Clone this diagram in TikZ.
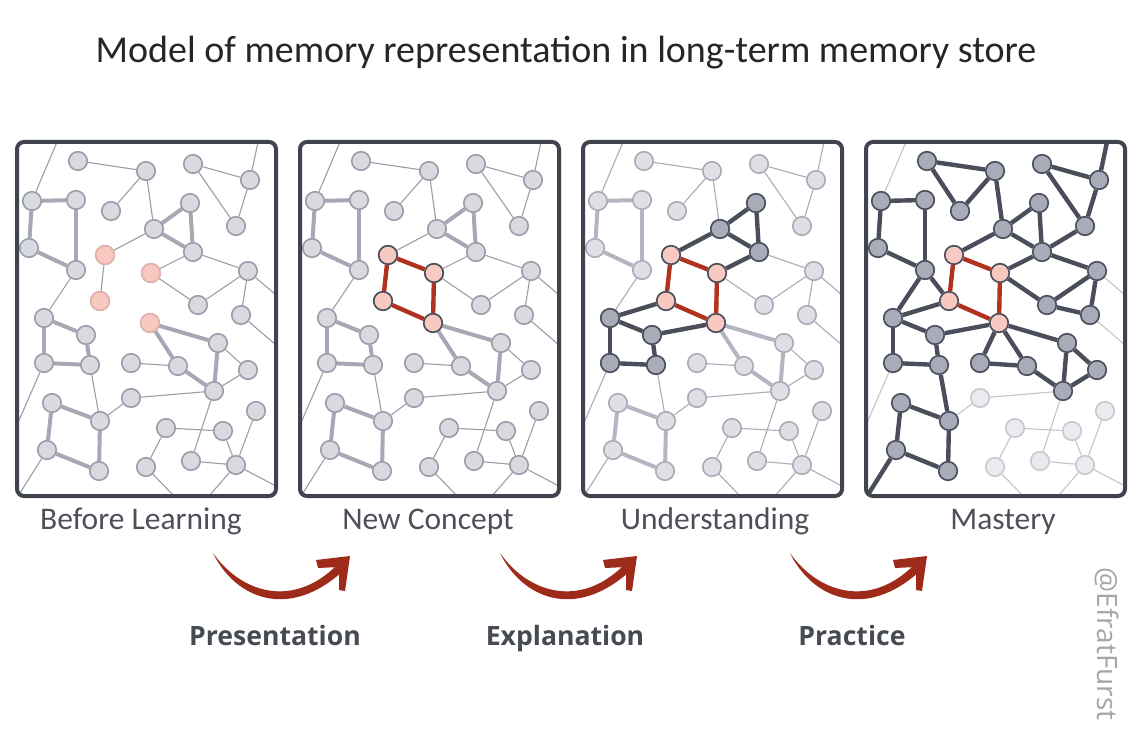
\documentclass[tikz,border=0pt]{standalone}
\usepackage{fontspec}
\setmainfont{Carlito}
\newfontfamily\stagefont{Open Sans}
\usetikzlibrary{backgrounds}

\definecolor{framegray}{HTML}{40444F}
\definecolor{spotfill}{HTML}{D9DAE0}
\definecolor{spotline}{HTML}{9A9DA9}
\definecolor{thinlink}{HTML}{9C9EA8}
\definecolor{midlink}{HTML}{A6A9B5}
\definecolor{knownfill}{HTML}{A8ACB9}
\definecolor{knownline}{HTML}{4A4E5B}
\definecolor{pinkfill}{HTML}{F8C9C0}
\definecolor{pinkline}{HTML}{E6B2A8}
\definecolor{redlink}{HTML}{B23220}
\definecolor{arrowred}{HTML}{9E2B1A}
\definecolor{capgray}{HTML}{4D5058}
\definecolor{stagegray}{HTML}{464A53}

\tikzset{
  spot/.style={circle, inner sep=0pt, minimum size=18.5pt, line width=1.6pt, fill=spotfill, draw=spotline},
  pale/.style={spot, fill=spotfill!85!white, draw=spotline!85!white},
  paler/.style={spot, fill=spotfill!55!white, draw=spotline!55!white},
  known/.style={spot, fill=knownfill, draw=knownline},
  newidea/.style={spot, fill=pinkfill, draw=pinkline},
  newfirm/.style={spot, fill=pinkfill, draw=knownline},
  weak/.style={line width=1.1pt, draw=thinlink},
  weakpale/.style={weak, draw=thinlink!85!white},
  weakpaler/.style={weak, draw=thinlink!60!white},
  mid/.style={line width=4pt, draw=midlink},
  midpale/.style={mid, draw=midlink!85!white},
  strong/.style={line width=4.4pt, draw=knownline},
  fresh/.style={line width=4.4pt, draw=redlink},
  panel/.style={draw=framegray, line width=4pt, rounded corners=7pt},
  headline/.style={text=black!85, font=\fontsize{38}{44}\selectfont, anchor=base},
  caption/.style={text=capgray, font=\fontsize{31.5}{36}\selectfont, anchor=base},
  stage/.style={text=stagegray, font=\stagefont\bfseries\fontsize{26.6}{30}\selectfont, anchor=base},
  swoosh/.pic={
    \fill[arrowred] (0,0) .. controls (22,45) and (75,68) .. (130,18)
      -- (124,12) .. controls (80,56) and (28,40) .. (0,0) -- cycle;
    \fill[arrowred] (103,7) -- (137,3) -- (132,38) -- (126,37) -- (126,14) -- (105,15) -- cycle;
  }
}

% spot positions inside a panel
\def\spots{1/61/19, 2/129/29, 3/176/22, 4/233/38, 5/15/59, 6/59/58, 7/94/69, 8/173/61, 9/137/87, 10/219/84,
  11/12/106, 12/88/113, 13/176/110, 14/59/128, 15/134/131, 16/231/129, 17/83/159, 18/181/163, 19/224/173, 20/27/176,
  21/133/181, 22/69/193, 23/201/201, 24/27/221, 25/73/223, 26/114/221, 27/161/224, 28/231/228, 29/197/249, 30/114/256,
  31/35/261, 32/83/279, 33/239/269, 34/149/286, 35/206/289, 36/30/308, 37/174/319, 38/219/323, 39/129/325, 40/82/329}
% where links leave the frame
\def\rims{tA/40/0, tB/241/0, rA/259/153, rB/259/203, lA/0/283, bA/3/351, bB/157/354, bC/192/354, rC/259/344}

% links per panel
\def\weakA{tA/5, 1/2, 2/7, 2/9, 3/4, 3/10, 4/10, 4/tB, 9/12, 12/17, 13/15, 13/16, 15/18, 16/18, 16/19, 16/rA, 19/rB,
  14/20, 24/lA, 25/32, 26/27, 23/28, 28/29, 29/30, 30/32, 29/37, 33/38, 34/35, 34/39, 35/38, 37/38, 38/rC, 38/bC, 39/bB, 36/bA}
\def\weakB{tA/5, 1/2, 2/7, 2/9, 3/4, 3/10, 4/10, 4/tB, 9/12, 13/15, 13/16, 15/18, 16/18, 16/19, 16/rA, 19/rB,
  14/20, 24/lA, 25/32, 26/27, 23/28, 28/29, 29/30, 30/32, 29/37, 33/38, 34/35, 34/39, 35/38, 37/38, 38/rC, 38/bC, 39/bB, 36/bA}
\def\weakC{tA/5, 1/2, 2/7, 2/9, 3/4, 3/10, 4/10, 4/tB, 13/16, 15/18, 16/18, 16/19, 16/rA, 19/rB,
  14/20, 24/lA, 25/32, 26/27, 23/28, 28/29, 29/30, 30/32, 29/37, 33/38, 34/35, 34/39, 35/38, 37/38, 38/rC, 38/bC, 39/bB, 36/bA}
\def\weakD{tA/5, 16/rA, 19/rB, 24/lA, 29/30, 30/32, 29/37, 33/38, 34/35, 34/39, 35/38, 37/38, 38/rC, 38/bC, 39/bB}
\def\midA{5/6, 5/11, 6/14, 11/14, 8/9, 8/13, 9/13, 20/22, 22/25, 20/24, 24/25, 21/23, 21/27, 27/29, 23/29, 31/32, 31/36, 36/40, 32/40}
\def\midC{5/6, 5/11, 6/14, 11/14, 21/23, 21/27, 27/29, 23/29, 31/32, 31/36, 36/40, 32/40}
\def\strongC{9/12, 8/9, 8/13, 9/13, 13/15, 17/20, 20/22, 22/21, 20/24, 24/25, 22/25}
\def\strongD{1/2, 1/7, 2/7, 2/9, 9/12, 8/9, 8/13, 9/13, 3/4, 3/10, 4/10, 4/tB, 10/13, 13/15, 13/16, 15/18, 16/18, 16/19, 18/19,
  5/6, 5/11, 6/14, 11/14, 14/17, 14/20, 17/20, 20/22, 20/24, 22/21, 22/25, 24/25, 25/32, 31/32, 31/36, 36/40, 32/40, 36/bA,
  21/26, 26/27, 21/27, 21/23, 23/28, 28/29, 23/29, 27/29}
\def\freshlinks{12/15, 15/21, 21/17, 17/12}

\begin{document}
\begin{tikzpicture}[x=1pt, y=-1pt]
\useasboundingbox (0,0) rectangle (1137,738);

%Title
\node[headline] (head) at (566,63) {Model of memory representation in long-term memory store};

%Panels
\foreach \p/\ox/\base in {1/17/spot, 2/300/spot, 3/583/pale, 4/866/paler} {
  \begin{scope}[shift={(\ox,142)}]
    \foreach \i/\x/\y in \spots {\node[\base] (p\p-\i) at (\x,\y) {};}
    \foreach \c/\x/\y in \rims {\coordinate (p\p-\c) at (\x,\y);}
    \draw[panel] (0,0) rectangle (259,354);
  \end{scope}
}

%Nodes that stand out
\foreach \i in {12,15,17,21} {
  \node[newidea] (p1-\i) at (p1-\i) {};
  \node[newfirm] (p2-\i) at (p2-\i) {};
  \node[newfirm] (p3-\i) at (p3-\i) {};
  \node[newfirm] (p4-\i) at (p4-\i) {};
}
\foreach \i in {8,9,13,20,22,24,25} \node[known] (p3-\i) at (p3-\i) {};
\foreach \i in {1,2,3,4,5,6,7,8,9,10,11,13,14,16,18,19,20,22,23,24,25,26,27,28,29,31,32,36,40}
  \node[known] (p4-\i) at (p4-\i) {};

%Links
\begin{pgfonlayer}{background}
  \fill[white] (0,0) rectangle (1137,738);
  \foreach \a/\b in \weakA \draw[weak] (p1-\a) -- (p1-\b);
  \foreach \a/\b in \midA \draw[mid] (p1-\a) -- (p1-\b);
  \foreach \a/\b in \weakB \draw[weak] (p2-\a) -- (p2-\b);
  \foreach \a/\b in \midA \draw[mid] (p2-\a) -- (p2-\b);
  \foreach \a/\b in \freshlinks \draw[fresh] (p2-\a) -- (p2-\b);
  \foreach \a/\b in \weakC \draw[weakpale] (p3-\a) -- (p3-\b);
  \foreach \a/\b in \midC \draw[midpale] (p3-\a) -- (p3-\b);
  \foreach \a/\b in \strongC \draw[strong] (p3-\a) -- (p3-\b);
  \foreach \a/\b in \freshlinks \draw[fresh] (p3-\a) -- (p3-\b);
  \foreach \a/\b in \weakD \draw[weakpaler] (p4-\a) -- (p4-\b);
  \foreach \a/\b in \strongD \draw[strong] (p4-\a) -- (p4-\b);
  \foreach \a/\b in \freshlinks \draw[fresh] (p4-\a) -- (p4-\b);
\end{pgfonlayer}

%Captions
\node[caption] (cap1) at (141,529) {Before Learning};
\node[caption] (cap2) at (428,529) {New Concept};
\node[caption] (cap3) at (715,529) {Understanding};
\node[caption] (cap4) at (1003,529) {Mastery};

%Arrows
\pic at (213,553) {swoosh};
\pic at (500,553) {swoosh};
\pic at (790,553) {swoosh};
\node[stage] (step1) at (275,645) {Presentation};
\node[stage] (step2) at (565,645) {Explanation};
\node[stage] (step3) at (852,645) {Practice};

\node[rotate=-90, text=black!35, font=\stagefont\fontsize{28}{32}\selectfont] (tag) at (1107,644) {@EfratFurst};
\end{tikzpicture}
\end{document}
